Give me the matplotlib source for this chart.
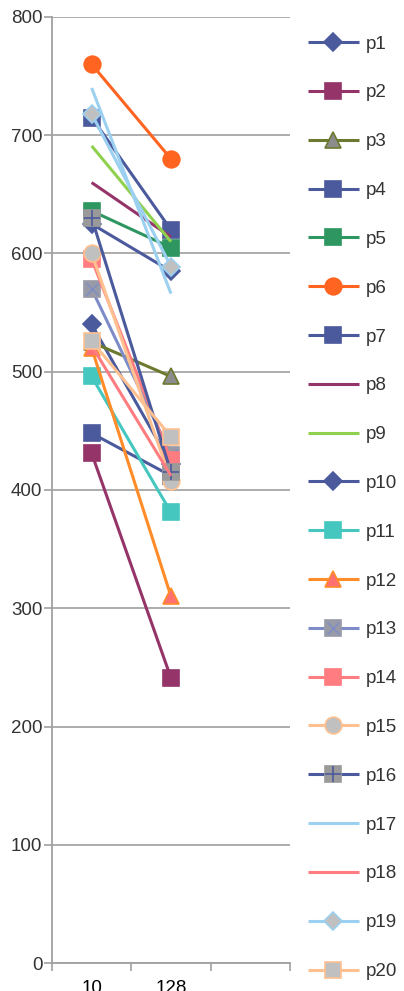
import numpy as np
import matplotlib
matplotlib.use('Agg')
from matplotlib import pyplot as plt

matplotlib.rcParams.update({
    'font.family': ['Liberation Sans', 'DejaVu Sans'],
    'font.size': 13.5,
    'text.color': '#333333',
})

categories = ['10', '128', '']
series = ['p%d' % i for i in range(1, 21)]
values = [
    [540, 422], [431, 241], [525, 496], [715, 620], [636, 605],
    [760, 680], [448, 412], [660, 614], [691, 610], [625, 585],
    [496, 381], [520, 310], [570, 430], [595, 425], [600, 408],
    [630, 415], [740, 566], [522, 412], [718, 589], [526, 445],
]

# line colour, marker, marker face, marker edge
styles = [
    ('#4b5a9c', 'D', '#4b5a9c', '#4b5a9c'),
    ('#943468', 's', '#943468', '#943468'),
    ('#6b7a2e', '^', '#8c8c8c', '#6b7a2e'),
    ('#4b5a9c', 's', '#4b5a9c', '#4b5a9c'),
    ('#2e9660', 's', '#2e9660', '#2e9660'),
    ('#ff6420', 'o', '#ff6420', '#ff6420'),
    ('#4b5a9c', 's', '#4b5a9c', '#4b5a9c'),
    ('#943468', '', None, None),
    ('#8fd14f', '', None, None),
    ('#4b5a9c', 'D', '#4b5a9c', '#4b5a9c'),
    ('#45c7c0', 's', '#45c7c0', '#45c7c0'),
    ('#ff8c28', '^', '#ff7070', '#ff8c28'),
    ('#7d8cc8', 's', '#999aa8', '#999aa8'),
    ('#ff7c80', 's', '#ff7c80', '#ff7c80'),
    ('#ffc090', 'o', '#c0c0c0', '#ffc090'),
    ('#4b5a9c', 's', '#9a9a9a', '#9a9a9a'),
    ('#9cd0f0', '', None, None),
    ('#ff7c80', '', None, None),
    ('#9cd0f0', 'D', '#c0c0c0', '#9cd0f0'),
    ('#ffc090', 's', '#c0c0c0', '#ffc090'),
]
sizes = {'s': 12, 'o': 12, 'D': 9, '^': 12, '': 0}

fig = plt.figure(figsize=(4.04, 9.91), dpi=100)
ax = fig.add_axes([52/404, 28/991, 238/404, 946/991])

x = np.arange(2)
handles = []
for name, vals, (lc, m, fc, ec) in zip(series, values, styles):
    h, = ax.plot(x, vals, color=lc, lw=2.2, marker=m if m else None,
                 markersize=sizes[m], markerfacecolor=fc, markeredgecolor=ec,
                 markeredgewidth=1.2, solid_capstyle='butt')
    # overlay glyphs on the grey squares of p13 and p16
    if name == 'p13':
        o, = ax.plot(x, vals, ls='none', marker='x', color='#7d8cc8', markersize=8, mew=1)
        h = (h, o)
    if name == 'p16':
        o, = ax.plot(x, vals, ls='none', marker='+', color='#4b5a9c', markersize=12, mew=1.2)
        h = (h, o)
    handles.append(h)

ax.set_xlim(-0.5, 2.5)
ax.set_ylim(0, 800)
ax.set_yticks(range(0, 801, 100))
ax.set_xticks([0, 1, 2])
ax.set_xticklabels(categories)
ax.set_xticks([-0.5, 0.5, 1.5, 2.5], minor=True)
ax.tick_params(axis='x', which='major', length=0, pad=12)
ax.tick_params(axis='x', which='minor', length=6, color='#a0a0a0', width=1.2)
ax.tick_params(axis='y', length=6, color='#a0a0a0', width=1.2, labelcolor='#333333', pad=1)
ax.yaxis.grid(True, color='#a6a6a6', lw=1.3)
ax.set_axisbelow(True)
for s in ('top', 'right'):
    ax.spines[s].set_visible(False)
for s in ('left', 'bottom'):
    ax.spines[s].set_color('#a0a0a0')
    ax.spines[s].set_linewidth(1.3)

fig.legend(handles, series, loc='upper left', bbox_to_anchor=(300/404, 1 - 28/991),
           frameon=False, handlelength=2.72, labelspacing=1.69,
           handletextpad=0.37, borderaxespad=0)

fig.savefig('out.png', dpi=100)
